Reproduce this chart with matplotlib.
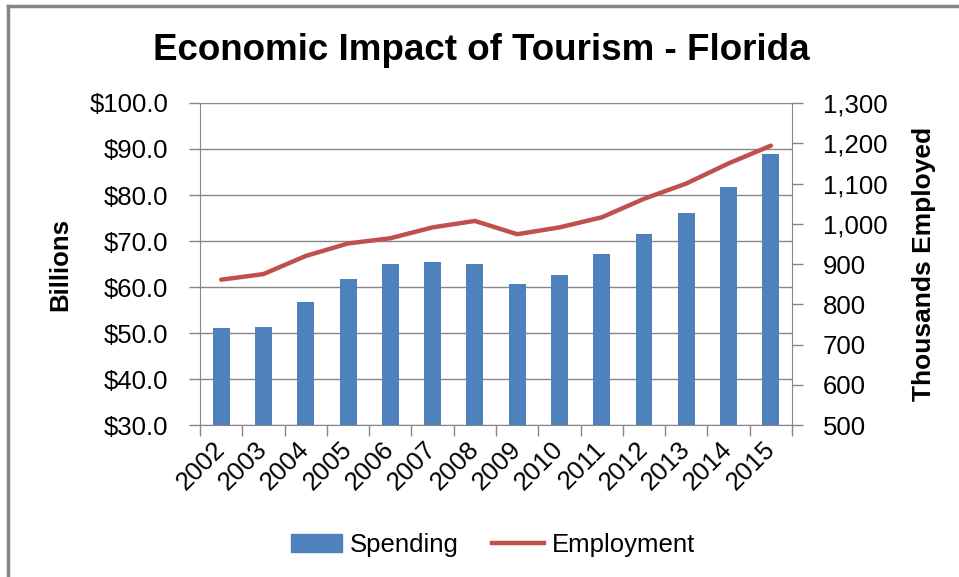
import numpy as np
import matplotlib
matplotlib.use('Agg')
import matplotlib.pyplot as plt
from matplotlib.lines import Line2D
from matplotlib.ticker import FuncFormatter

plt.rcParams['font.family'] = ['Liberation Sans', 'DejaVu Sans']

# Dados: gasto turístico (bilhões) e emprego (milhares)
anos = ['2002', '2003', '2004', '2005', '2006', '2007', '2008',
        '2009', '2010', '2011', '2012', '2013', '2014', '2015']
gastos = [51.0, 51.2, 56.7, 61.8, 64.9, 65.4, 64.9,
          60.7, 62.7, 67.1, 71.6, 76.0, 81.8, 88.9]
empregos = [861, 875, 920, 951, 964, 991, 1007,
            974, 991, 1016, 1062, 1100, 1150, 1194]

azul = '#4F81BD'
vermelho = '#C0504D'
cinza = '#868686'

fig = plt.figure(figsize=(9.59, 5.77), dpi=100)
ax = fig.add_axes([0.2086, 0.2634, 0.6173, 0.5581])
ax2 = ax.twinx()

x = np.arange(len(anos))
ax.bar(x, gastos, width=0.4, color=azul, zorder=3, label='Spending')
ax2.plot(x, empregos, color=vermelho, lw=3.2, solid_capstyle='round', label='Employment')

ax.set_xlim(-0.5, len(anos) - 0.5)
ax.set_ylim(30, 100)
ax.set_yticks(np.arange(30, 101, 10))
ax.yaxis.set_major_formatter(FuncFormatter(lambda v, p: f'${v:.1f}'))
ax.grid(axis='y', color=cinza, lw=1, zorder=0)
ax.set_axisbelow(True)

ax2.set_ylim(500, 1300)
ax2.set_yticks(np.arange(500, 1301, 100))
ax2.yaxis.set_major_formatter(FuncFormatter(lambda v, p: f'{int(v):,}'))

# Marcas do eixo x nas fronteiras das categorias
ax.set_xticks(x)
ax.set_xticks(np.arange(-0.5, len(anos), 1), minor=True)
ax.tick_params(axis='x', which='major', length=0, pad=15)
ax.tick_params(axis='x', which='minor', length=8, color=cinza, width=1)
ax.set_xticklabels(anos, rotation=45, ha='right', va='center', rotation_mode='anchor')

for a in (ax, ax2):
    for s in a.spines.values():
        s.set_visible(False)
    a.tick_params(labelsize=18.5)
ax.spines['left'].set_visible(True)
ax.spines['left'].set_color(cinza)
ax.spines['bottom'].set_visible(True)
ax.spines['bottom'].set_color(cinza)
ax2.spines['right'].set_visible(True)
ax2.spines['right'].set_color(cinza)
ax.tick_params(axis='y', length=8, color=cinza, width=1, pad=15)
ax2.tick_params(axis='y', length=8, color=cinza, width=1, pad=14)

ax.set_ylabel('Billions', fontsize=18.5, fontweight='bold', labelpad=12)
ax2.set_ylabel('Thousands Employed', fontsize=19, fontweight='bold', labelpad=18)

fig.text(0.502, 0.913, 'Economic Impact of Tourism - Florida',
         ha='center', va='center', fontsize=26.5, fontweight='bold')

handles = [plt.Rectangle((0, 0), 1, 1, color=azul),
           Line2D([0], [0], color=vermelho, lw=3.2)]
fig.legend(handles, ['Spending', 'Employment'], loc='center',
           bbox_to_anchor=(0.514, 0.055), ncol=2, frameon=False,
           fontsize=18.5, handlelength=2.0, handletextpad=0.3,
           columnspacing=1.3)

# Borda cinza superior e esquerda
fig.add_artist(Line2D([0.008, 0.008], [0, 0.99], color=cinza, lw=2.5))
fig.add_artist(Line2D([0.008, 1], [0.99, 0.99], color=cinza, lw=2.5))

fig.savefig('out.png', dpi=100)
